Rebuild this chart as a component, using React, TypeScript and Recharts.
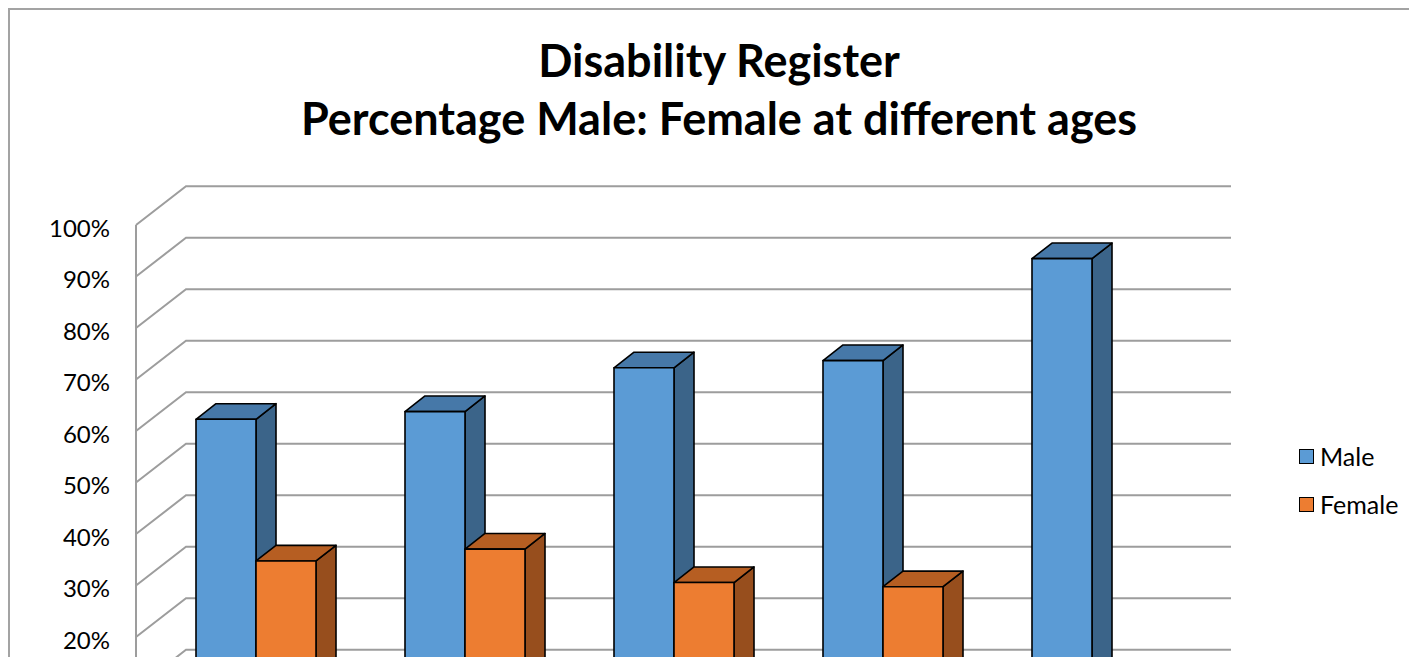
import React from 'react'
import { BarChart, Bar, XAxis, YAxis, CartesianGrid, Legend } from 'recharts'

const ages = ['0-15', '16-24', '25-44', '45-64', '65+']
const male = [60, 61.5, 70, 71.4, 91.2]
const female = [32.5, 34.8, 28.3, 27.5, 8.5]
const yTicks = [0, 10, 20, 30, 40, 50, 60, 70, 80, 90, 100]

const data = ages.map((age, i) => ({ age, Male: male[i], Female: female[i] }))

const FONT = 'Lato, "Open Sans", sans-serif'
const WALL_DX = 50
const WALL_DY = 38.7
const BAR_OFF = 15
const BAR_DEPTH = 20
const SLOPE = 0.78

const series = [
  { key: 'Male', front: '#5B9BD5', top: '#4678A8', side: '#3B6489' },
  { key: 'Female', front: '#ED7D31', top: '#B65E22', side: '#974E1D' },
]

function makeBar(front: string, top: string, side: string) {
  return (props: any) => {
    const { x, y, width, height } = props
    const fx = x + BAR_OFF
    const fy = y - BAR_OFF * SLOPE
    const dx = BAR_DEPTH
    const dy = BAR_DEPTH * SLOPE
    const s = { stroke: '#000', strokeWidth: 1.6, strokeLinejoin: 'round' as const }
    return (
      <g>
        <polygon
          points={`${fx + width},${fy} ${fx + width + dx},${fy - dy} ${fx + width + dx},${fy + height - dy} ${fx + width},${fy + height}`}
          fill={side}
          {...s}
        />
        <polygon
          points={`${fx},${fy} ${fx + dx},${fy - dy} ${fx + width + dx},${fy - dy} ${fx + width},${fy}`}
          fill={top}
          {...s}
        />
        <rect x={fx} y={fy} width={width} height={height} fill={front} {...s} />
      </g>
    )
  }
}

// gridline on the side wall + back wall
const WallLine = (props: any) => {
  const { x1, y1, x2 } = props
  return (
    <path
      key={`grid-${y1}`}
      d={`M${x1},${y1} L${x1 + WALL_DX},${y1 - WALL_DY} L${x2 + WALL_DX},${y1 - WALL_DY}`}
      fill="none"
      stroke="#9d9d9d"
      strokeWidth={2}
    />
  )
}

const YTick = (props: any) => {
  const { x, y, payload } = props
  return (
    <text x={x} y={y + 2} textAnchor="end" dominantBaseline="central" fontFamily={FONT} fontSize={24} fill="#000">
      {`${payload.value}%`}
    </text>
  )
}

const LegendBox = () => (
  <div style={{ fontFamily: FONT, fontSize: 25, color: '#000' }}>
    {series.map((s, i) => (
      <div key={s.key} style={{ display: 'flex', alignItems: 'center', height: 26, marginBottom: i === 0 ? 22 : 0 }}>
        <span style={{ width: 13, height: 13, background: s.front, border: '1.5px solid #000', marginRight: 6 }} />
        <span>{s.key}</span>
      </div>
    ))}
  </div>
)

export default function App(): React.JSX.Element {
  return (
    <div style={{ position: 'fixed', left: 0, top: 0, width: 1409, height: 657, overflow: 'hidden', background: '#fff' }}>
      <div
        style={{
          position: 'absolute',
          left: 8,
          top: 8,
          width: 1500,
          height: 800,
          border: '2px solid #a3a3a3',
        }}
      />
      <div
        style={{
          position: 'absolute',
          left: 0,
          width: 1438,
          top: 31,
          textAlign: 'center',
          fontFamily: FONT,
          fontWeight: 700,
          fontSize: 45,
          lineHeight: '58px',
          color: '#000',
        }}
      >
        <div>Disability Register</div>
        <div>Percentage Male: Female at different ages</div>
      </div>
      <div style={{ position: 'absolute', left: 0, top: 0 }}>
        <BarChart
          width={1409}
          height={800}
          data={data}
          margin={{ top: 225, right: 228, bottom: 60, left: 0 }}
          barSize={60}
          barGap={0}
        >
          <CartesianGrid vertical={false} horizontal={WallLine} />
          <XAxis dataKey="age" hide />
          <YAxis
            domain={[0, 100]}
            ticks={yTicks}
            width={136}
            tickLine={false}
            tickSize={0}
            tickMargin={26}
            axisLine={{ stroke: '#9d9d9d', strokeWidth: 2 }}
            tick={YTick}
            interval={0}
          />
          <Legend
            layout="horizontal"
            verticalAlign="middle"
            align="center"
            content={LegendBox}
            wrapperStyle={{ position: 'absolute', left: 1299, top: 443, width: 110 }}
          />
          {series.map((s) => (
            <Bar key={s.key} dataKey={s.key} isAnimationActive={false} shape={makeBar(s.front, s.top, s.side)} />
          ))}
        </BarChart>
      </div>
    </div>
  )
}
